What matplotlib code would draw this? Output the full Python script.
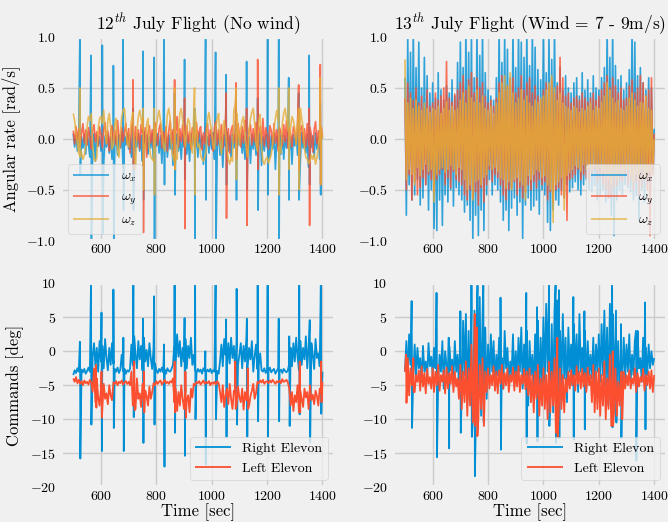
import numpy as np
import matplotlib.pyplot as plt

plt.style.use('fivethirtyeight')
plt.rcParams.update({
    'font.family': 'serif',
    'font.serif': ['cmr10'],
    'mathtext.fontset': 'cm',
    'axes.formatter.use_mathtext': True,
    'axes.unicode_minus': True,
    'lines.linewidth': 1.0,
})

# samples every 5 s from t=500 to t=1400 (values scaled: x100 rad/s, x10 deg)
# spikes: (time, high, low) in real units

# ---- 12th July, angular rates (x100) ----
wx12 = [5, -8, 3, -12, 6, -20, 2, -9, 4, -15, 7, -6, -18, 3, -10, 5, -22, 4, -7, 2,
        -12, 6, -25, 3, -8, 5, -14, 2, -20, 6, -5, 3, -16, 4, -9, 7, -28, 3, -6, 5,
        -10, 4, -18, 6, -30, 2, -8, 5, -12, 3, -22, 7, -6, 4, -15, 2, -9, 5, -20, 3,
        -7, 5, -14, 3, -24, 6, -8, 2, -18, 4, -10, 6, -26, 3, -6, 5, -12, 2, -20, 4,
        -8, 6, -15, 3, -22, 5, -7, 2, -12, 4, -18, 6, -9, 3, -25, 5, -6, 2, -14, 4,
        -10, 6, -20, 3, -8, 5, -16, 2, -28, 4, -7, 6, -12, 3, -18, 5, -9, 2, -22, 4,
        -6, 5, -14, 3, -20, 6, -8, 2, -24, 4, -10, 5, -16, 3, -7, 6, -26, 2, -12, 4,
        -8, 5, -18, 3, -10, 6, -30, 2, -7, 4, -15, 5, -20, 3, -9, 6, -12, 2, -25, 4,
        -7, 5, -16, 3, -22, 6, -9, 2, -14, 4, -28, 5, -8, 3, -18, 6, -10, 2, -20, 4,
        0]
wy12 = [8, -5, 12, -2, 10, -8, 6, 15, -4, 9, -6, 11, 2, -10, 8, 14, -3, 7, -7, 12,
        4, -9, 10, 16, -5, 8, -12, 6, 13, -4, 9, -6, 18, 2, -8, 11, -3, 7, 15, -5,
        10, -14, 8, 20, -6, 12, -3, 9, -10, 14, 5, -7, 11, -18, 6, 13, -4, 9, -8, 16,
        3, -6, 10, 15, -9, 7, -4, 12, -12, 8, 18, -5, 9, -15, 6, 22, -8, 10, -3, 14,
        -6, 9, 13, -4, 7, -10, 11, 5, -8, 16, -3, 8, 12, -11, 6, -5, 10, 15, -7, 9,
        4, -12, 11, 17, -6, 9, -3, 14, -9, 7, 20, -5, 10, -14, 8, 13, -4, 6, -10, 15,
        5, -8, 12, -4, 18, 7, -11, 9, 14, -6, 10, -3, 16, -9, 8, 12, -5, 20, -7, 11,
        3, -10, 13, 8, -6, 15, -4, 9, -12, 11, 6, -7, 14, -3, 18, -9, 10, 5, -8, 12,
        7, -5, 16, -11, 9, 13, -4, 10, -8, 15, -6, 11, 4, -13, 9, 17, -5, 8, -9, 12,
        2]
wz12 = [25, 18, 5, -5, -15, -18, -14, -20, -16, -8, 12, 22, 18, 25, -8, -20, -22, -18, 10, 20,
        22, 15, 28, 8, -5, 18, 25, 12, -10, -6, 15, 20, -12, -18, 5, 22, 28, 30, 12, -5,
        -8, 5, 18, 26, -15, -30, 8, 22, 28, 20, 10, -5, -10, 14, 20, -8, -18, -20, -22, -6,
        12, 22, 28, 18, 8, -6, -12, 5, 24, 30, 20, -10, -18, -22, -16, -20, 8, 25, 30, 18,
        5, -8, 12, 20, 15, -6, -14, 22, 28, 10, -8, -5, -16, -20, -22, -18, -12, 20, 26, 15,
        8, -6, -10, 12, 20, 25, -5, -15, 10, 18, 6, -8, -20, -25, -18, -22, 28, 34, 25, 12,
        -6, 10, 18, 22, 5, -10, -18, 8, 20, 26, 30, 15, -5, -12, 18, 24, -8, -22, -25, -20,
        -18, -24, -20, -15, -5, 10, 20, 28, 18, -8, -14, 15, 25, 30, 20, 8, -10, 12, 22, 18,
        10, -6, 16, 24, 30, 20, 12, -10, -18, -20, -24, -22, -16, -20, -15, -25, -18, -8, 5, 12,
        0]
wx12_spikes = [(524, 1.05, -0.35), (564, 0.82, -1.05), (605, 0.92, -0.93), (645, 0.72, -1.05),
               (680, 1.05, -0.7), (716, 0.3, -0.7), (752, 0.86, -0.6), (792, 0.8, -1.05),
               (828, 1.05, -0.45), (866, 0.45, -0.55), (902, 0.78, -0.4), (938, 0.3, -1.05),
               (978, 1.05, -0.6), (1014, 0.85, -1.05), (1052, 0.63, -0.45), (1088, 0.3, -0.6),
               (1126, 0.76, -0.5), (1166, 0.4, -0.7), (1202, 1.05, -0.55), (1242, 1.05, -1.05),
               (1278, 0.6, -0.6), (1314, 0.45, -0.6), (1352, 0.82, -0.45), (1392, 0.35, -0.55)]
wy12_spikes = [(716, 0.58, -0.3), (752, 0.2, -0.92), (866, 0.58, -0.3), (902, 0.4, -0.88),
               (1052, 0.45, -0.78), (1088, 0.55, -0.2), (1126, 0.3, -0.85), (1166, 0.78, -0.3),
               (1314, 0.53, -0.3), (1352, 0.3, -0.85), (1392, 0.73, -0.45)]
wz12_spikes = [(524, 0.5, -0.1), (752, 0.3, -0.5), (792, 0.3, -0.55), (866, 0.5, -0.3),
               (938, 0.5, -0.55), (1088, 0.5, -0.4), (1242, 0.5, -0.55), (1278, 0.5, -0.3),
               (1314, 0.3, -0.5), (1392, 0.6, -0.45)]

# ---- 13th July, angular rates (x100) ----
wx13 = [60, -75, 100, -45, 85, -60, 110, -55, 70, -40, 95, -65, 50, -58, 80, -45, 62, -70, 45, -50,
        55, -88, 40, -90, 65, -60, 48, -85, 38, -55, 52, -62, 45, -50, 58, -66, 42, -48, 75, -55,
        95, -60, 70, -72, 110, -65, 85, -80, 105, -100, 60, -75, 110, -95, 82, -70, 110, -90, 65, -55,
        48, -40, 42, -55, 38, -45, 60, -50, 110, -62, 75, -80, 105, -70, 88, -90, 60, -68, 110, -58,
        70, -75, 110, -62, 95, -100, 80, -65, 110, -58, 72, -70, 110, -66, 90, -60, 68, -74, 58, -50,
        110, -55, 65, -82, 105, -90, 78, -70, 110, -60, 55, -65, 70, -50, 48, -58, 62, -45, 50, -52,
        45, -48, 55, -42, 60, -50, 42, -55, 65, -45, 48, -40, 58, -50, 45, -52, 62, -46, 50, -60,
        48, -55, 60, -50, 70, -62, 110, -58, 80, -75, 110, -95, 72, -60, 58, -50, 62, -55, 48, -45,
        55, -48, 68, -52, 110, -60, 95, -56, 62, -80, 70, -50, 55, -62, 48, -45, 60, -55, 50, -30,
        10]
wy13 = [40, -50, 55, -35, 45, -60, 38, -42, 50, -55, 35, -48, 42, -38, 30, -45, 48, -35, 32, -40,
        35, -52, 45, -40, 38, -35, 42, -30, 50, -45, 76, -38, 40, -48, 36, -32, 44, -40, 48, -42,
        55, -45, 62, -55, 48, -60, 58, -50, 65, -58, 45, -52, 60, -65, 50, -48, 55, -62, 42, -45,
        35, -30, 38, -42, 32, -35, 40, -38, 55, -45, 62, -55, 48, -60, 52, -50, 58, -48, 60, -42,
        45, -55, 50, -48, 62, -58, 48, -52, 55, -45, 60, -50, 45, -42, 52, -48, 42, -40, 38, -45,
        48, -42, 55, -60, 50, -52, 58, -62, 45, -50, 52, -48, 80, -55, 60, -58, 42, -80, 45, -40,
        35, -38, 40, -35, 42, -30, 38, -40, 45, -35, 40, -38, 36, -42, 40, -35, 45, -30, 38, -42,
        42, -38, 48, -45, 55, -50, 62, -58, 50, -55, 60, -48, 52, -45, 45, -40, 50, -42, 38, -35,
        40, -45, 52, -40, 58, -50, 45, -42, 50, -55, 62, -48, 55, -40, 42, -50, 48, -95, 60, -35,
        5]
wz13 = [78, -40, 35, -30, 40, -35, 30, -45, 38, -28, 32, -36, 28, -30, 35, -25, 30, -32, 26, -30,
        30, -62, 28, -35, 32, -30, 25, -28, 30, -33, 36, -30, 28, -26, 32, -30, 28, -35, 30, -28,
        38, -30, 45, -40, 35, -50, 52, -45, 40, -60, 36, -42, 48, -40, 35, -45, 42, -38, 30, -35,
        28, -26, 32, -30, 25, -28, 35, -32, 45, -38, 55, -40, 62, -48, 52, -42, 65, -50, 45, -40,
        35, -38, 40, -42, 48, -45, 38, -60, 42, -36, 35, -40, 32, -35, 38, -30, 36, -32, 40, -38,
        42, -36, 48, -45, 55, -50, 62, -82, 50, -45, 38, -42, 45, -38, 35, -70, 32, -36, 30, -33,
        28, -30, 32, -26, 30, -28, 26, -32, 30, -25, 28, -30, 32, -28, 35, -30, 28, -26, 32, -30,
        30, -28, 36, -32, 42, -38, 55, -40, 48, -45, 40, -38, 35, -40, 38, -32, 30, -35, 28, -30,
        32, -30, 40, -36, 45, -42, 38, -35, 32, -38, 36, -30, 35, -40, 42, -35, 30, -32, 28, -25,
        0]

# ---- 12th July, elevon commands (x10 deg) ----
right12 = [-35, -28, -32, -25, -30, -34, -27, -31, -26, -33, -29, -24, -30, -27, -8, 12, -22, 5, -30, 15,
           -15, 8, -25, 18, -10, -28, 5, -20, 12, -18, -26, -30, -24, -32, -27, -5, -29, -26, -33, -28,
           -30, -26, 10, -20, 22, -5, -25, 15, -12, 8, -28, 20, -15, 2, -22, 12, -10, -26, 5, -18,
           -28, -32, -26, -30, -24, -31, -27, -33, -25, -29, -30, -26, -20, 10, -18, 25, -8, 15, -22, 5,
           -15, 18, -25, 8, -10, 20, -20, -5, -28, -32, -26, -30, -27, -33, -25, -29, -31, -27, -30, -26,
           -32, -28, -30, -25, -29, -33, -15, 10, -22, 18, -5, -25, 12, -18, 20, -10, 8, -28, 15, -20,
           -5, 12, -25, 8, -15, 18, -22, 5, -12, 15, -30, -8, 10, -26, -20, -3, -28, -30, -25, -32,
           -27, -30, -24, -31, -28, -26, -33, -29, -25, -30, -27, -32, -26, -29, -31, -28, -18, 5, -22, 12,
           -15, 20, -8, -28, 15, -20, 5, -12, 22, -25, 8, -18, 12, -5, -26, 18, -10, -3, -22, 10,
           -30]
left12 = [-40, -45, -38, -47, -42, -48, -44, -50, -43, -47, -45, -49, -42, -46, -60, -25, -75, -40, -68, -80,
          -55, -85, -48, -70, -62, -78, -50, -65, -72, -46, -48, -44, -50, -45, -47, -43, -49, -46, -44, -48,
          -45, -50, -30, -80, -55, -85, -40, -70, -62, -82, -48, -75, -58, -66, -80, -52, -70, -60, -47, -50,
          -44, -48, -45, -43, -49, -46, -42, -47, -45, -48, -44, -46, -40, -75, -55, -88, -60, -80, -50, -70,
          -85, -58, -72, -65, -90, -55, -68, -48, -50, -45, -47, -44, -49, -46, -43, -48, -45, -47, -44, -50,
          -46, -48, -45, -49, -44, -47, -60, -75, -50, -82, -65, -55, -78, -48, -70, -85, -58, -62, -80, -52,
          -68, -75, -55, -86, -60, -72, -50, -80, -66, -58, -48, -70, -62, -45, -47, -43, -46, -42, -48, -45,
          -44, -47, -43, -46, -42, -45, -48, -44, -46, -43, -47, -41, -45, -44, -42, -46, -55, -80, -60, -88,
          -65, -75, -50, -90, -58, -70, -82, -55, -68, -60, -85, -50, -72, -64, -78, -58, -66, -80, -55, -62,
          -45]
right12_spikes = [(524, 1.4, -15.8), (564, 9.8, -10.8), (602, 5.7, -14.7), (645, 9.1, -11.3),
                  (681, 2.0, -14.7), (717, 9.8, -9.7), (752, 4.8, -13.5), (792, 8.1, -10.8),
                  (828, 1.0, -17.0), (866, 9.8, -12.0), (902, 4.9, -15.4), (940, 9.8, -10.0),
                  (977, 0.0, -16.7), (1014, 9.8, -10.0), (1052, 4.7, -12.6), (1090, 9.2, -10.8),
                  (1127, 4.8, -12.6), (1166, 9.8, -10.3), (1202, 9.8, -12.6), (1242, 4.8, -10.3),
                  (1280, 2.2, -11.0), (1316, 9.8, -9.3), (1354, 4.6, -13.4), (1394, 9.8, -9.2)]
left12_spikes = [(582, -2.0, -8.3), (602, -3.0, -9.8), (720, -1.5, -8.7), (755, -3.0, -9.0),
                 (866, -1.5, -9.0), (905, -3.0, -9.8), (1085, -1.5, -8.5), (1130, -2.5, -8.5),
                 (1318, -1.5, -9.0), (1395, -1.5, -7.5)]

# ---- 13th July, elevon commands (x10 deg) ----
right13 = [-30, 15, -40, 25, -20, -5, -35, 10, -38, 5, -25, -10, -45, 8, -30, -15, -40, 12, -22, -8,
           -35, 5, -25, 30, -45, -5, -30, 15, -55, 0, -20, -38, 8, -28, -12, -42, 15, -30, -5, -50,
           20, -60, 45, -35, 55, -80, 30, -70, 60, -100, 40, -125, 65, -40, 80, -95, 50, -60, 35, -70,
           10, -45, 25, -30, 15, -50, -5, -35, 20, -40, -10, -55, 30, -25, 5, -45, -15, -35, 25, -50,
           0, -40, 20, -30, 35, -55, 10, -45, 30, -80, 15, -35, -5, -60, 25, -40, 45, -70, 20, -50,
           50, -45, 70, -30, 85, -60, 40, -90, 60, -35, 75, -65, 30, -50, 55, -40, 20, -75, 35, -30,
           10, -50, 40, -35, 25, -60, 55, -30, 5, -45, 30, -55, 15, -35, -5, -40, 20, -50, 10, -30,
           25, -45, 40, -35, 60, -50, 35, -80, 70, -40, 55, -60, 30, -45, 15, -70, 5, -35, 20, -40,
           10, -30, 25, -45, -5, -35, 15, -40, 30, -25, -10, -45, 20, -30, 5, -35, 10, -25, 0, -20,
           -10]
left13 = [-30, -55, -10, -65, -25, -50, -20, -60, -35, -45, -28, -58, -22, -52, -32, -62, -26, -48, -38, -55,
          -25, -60, -30, -50, -20, -58, -35, -45, -28, -62, -24, -55, -32, -48, -22, -60, -30, -52, -40, -70,
          -20, -85, -30, -75, -15, -95, -25, -80, 10, -105, -5, -90, 35, -100, -20, -85, -10, -110, -30, -60,
          -25, -55, -35, -50, -22, -58, -30, -62, -28, -48, -20, -55, -32, -50, -25, -60, -35, -45, -24, -58,
          -30, -52, -22, -60, -35, -48, -26, -56, -30, -65, -25, -75, -35, -90, -30, -70, -20, -95, -40, -80,
          -25, -85, -35, -100, -15, -90, -30, -80, -10, -120, 20, -95, -25, -85, -35, -90, -40, -60, -30, -55,
          -28, -50, -35, -58, -22, -48, -30, -55, -26, -52, -32, -60, -24, -50, -35, -75, -20, -90, -30, -85,
          -25, -95, -35, -80, -15, -100, -40, -85, -5, -110, -30, -90, -25, -95, -45, -80, -35, -100, -30, -55,
          -35, -50, -28, -55, -40, -48, -25, -60, -32, -52, -38, -45, -26, -58, -35, -50, -30, -55, -28, -60,
          -35]
right13_spikes = [(524, 7.4, -11.3), (614, 8.6, -15.6), (658, 2.0, -14.3), (700, 5.9, -12.0),
                  (740, 9.8, -12.6), (751, 6.0, -18.4), (762, 9.7, -11.0), (783, 9.7, -10.5),
                  (845, 7.9, -14.5), (938, 8.6, -13.6), (977, 6.5, -13.3), (1020, 9.8, -11.0),
                  (1044, 10.0, -13.5), (1056, 9.0, -12.8), (1108, 8.0, -13.0), (1148, 5.9, -11.5),
                  (1248, 10.0, -11.2), (1262, 6.0, -10.5), (1280, 4.0, -12.8), (1334, 3.0, -16.1),
                  (1367, 7.2, -11.5)]
left13_spikes = [(504, -0.5, -7.6), (530, -1.0, -6.0), (752, 5.5, -11.0), (760, 3.0, -12.5),
                 (1050, 2.0, -12.7), (1250, 0.0, -11.0), (1282, -3.0, -10.0)]


def series(base, scale, spikes=()):
    t = 500 + 5 * np.arange(len(base), dtype=float)
    v = np.array(base, dtype=float) / scale
    if spikes:
        st = np.array([s[0] for s in spikes], dtype=float)
        hi = np.array([s[1] for s in spikes])
        lo = np.array([s[2] for s in spikes])
        t = np.concatenate([t, st, st + 1.5])
        v = np.concatenate([v, hi, lo])
        order = np.argsort(t, kind='stable')
        t, v = t[order], v[order]
    return t, v


fig, axes = plt.subplots(2, 2, figsize=(6.68, 5.22), dpi=100)
fig.patch.set_facecolor('#f0f0f0')
fig.subplots_adjust(left=0.091, right=0.998, top=0.929, bottom=0.067,
                    wspace=0.21, hspace=0.21)

colors = ['#008fd5', '#fc4f30', '#e5ae38']
labels_w = [r'$\omega_x$', r'$\omega_y$', r'$\omega_z$']

rates = [
    [(wx12, wx12_spikes), (wy12, wy12_spikes), (wz12, wz12_spikes)],
    [(wx13, ()), (wy13, ()), (wz13, ())],
]
cmds = [
    [(right12, right12_spikes), (left12, left12_spikes)],
    [(right13, right13_spikes), (left13, left13_spikes)],
]
titles = [r'12$^{th}$ July Flight (No wind)', r'13$^{th}$ July Flight (Wind = 7 - 9m/s)']
legend_locs = ['lower left', 'lower right']

for j in range(2):
    ax = axes[0, j]
    for (base, spk), c, lab in zip(rates[j], colors, labels_w):
        t, v = series(base, 100.0, spk)
        ax.plot(t, v, color=c, lw=1.2, alpha=0.8, label=lab)
    ax.set_ylim(-1, 1)
    ax.set_xlim(455, 1445)
    ax.set_title(titles[j], fontsize=12.5, pad=3)
    ax.legend(loc=legend_locs[j], fontsize=10, handlelength=2.6)
    ax.tick_params(labelsize=10)
    ax.tick_params(axis='x', pad=2)

    ax = axes[1, j]
    for (base, spk), c, lab in zip(cmds[j], colors[:2], ['Right Elevon', 'Left Elevon']):
        t, v = series(base, 10.0, spk)
        ax.plot(t, v, color=c, lw=1.3, label=lab)
    ax.set_ylim(-20, 10)
    ax.set_xlim(455, 1445)
    ax.tick_params(labelsize=10)
    ax.tick_params(axis='x', pad=2)
    ax.set_xlabel('Time [sec]', fontsize=12, labelpad=0)
    ax.legend(loc='lower right', fontsize=10, handlelength=2.6)

for ax in axes.flat:
    ax.set_xticks([600, 800, 1000, 1200, 1400])

axes[0, 0].set_ylabel('Angular rate [rad/s]', fontsize=12)
axes[1, 0].set_ylabel('Commands [deg]', fontsize=12)

fig.savefig('out.png', dpi=100, facecolor=fig.get_facecolor())
